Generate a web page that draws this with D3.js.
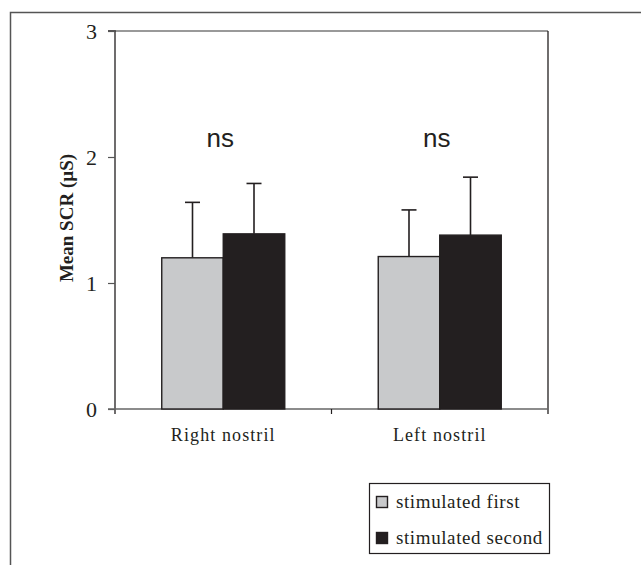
<!DOCTYPE html>
<html><head><meta charset="utf-8">
<script src="https://cdn.jsdelivr.net/npm/d3@7"></script>
<style>body{margin:0;background:#fff}</style>
</head><body>
<svg id="c" width="641" height="565"></svg>
<script>
const categories = ["Right nostril", "Left nostril"];
const seriesNames = ["stimulated first", "stimulated second"];
const means = [[1.20, 1.39], [1.21, 1.38]];
const errorTops = [[1.64, 1.79], [1.58, 1.84]];
const yTicks = [0, 1, 2, 3];
const annotations = ["ns", "ns"];
const yLabel = "Mean SCR (\u00b5S)";

(function () {
const colors = ["#c8c9cb", "#231f20"];
const ink = "#231f20";
const svg = d3.select("#c");

// outer frame
svg.append("path").attr("d", "M10.5,565V12.5H641").attr("fill", "none").attr("stroke", "#555").attr("stroke-width", 1.5);

const pl = 115, pr = 548, pt = 31, pb = 409;
const x = d3.scaleBand().domain(categories).range([pl, pr]);
const x1 = d3.scaleBand().domain(seriesNames).range([0, x.bandwidth()]).paddingOuter(0.76).paddingInner(0);
const y = d3.scaleLinear().domain([0, 3]).range([pb, pt]);

// plot frame top and right
svg.append("line").attr("x1", pl).attr("x2", pr).attr("y1", pt).attr("y2", pt).attr("stroke", "#777").attr("stroke-width", 1.3);
svg.append("line").attr("x1", pr).attr("x2", pr).attr("y1", pt).attr("y2", pb + 5).attr("stroke", ink).attr("stroke-width", 1.3);

// y axis
const ya = svg.append("g").attr("transform", `translate(${pl},0)`)
  .call(d3.axisLeft(y).tickValues(yTicks).tickFormat(d3.format("d")).tickSize(7).tickPadding(11));
ya.select(".domain").attr("stroke", ink).attr("stroke-width", 1.3).attr("d", `M-7,${pt}H0V${pb + 5}`);
ya.selectAll(".tick line").attr("stroke", "#555").attr("stroke-width", 1.2);
ya.selectAll(".tick text").attr("font-family", "Liberation Serif, Times New Roman, serif").attr("font-size", 22).attr("fill", ink);

// x axis
const xa = svg.append("g").attr("transform", `translate(0,${pb})`)
  .call(d3.axisBottom(x).tickSize(0).tickPadding(19));
xa.select(".domain").attr("stroke", "#666").attr("stroke-width", 1.5).attr("d", `M${pl - 7},0H${pr}`);
xa.selectAll(".tick text").attr("font-family", "Liberation Serif, Times New Roman, serif").attr("font-size", 18).attr("letter-spacing", "1.1px").attr("fill", ink);
svg.append("line").attr("x1", x(categories[1])).attr("x2", x(categories[1])).attr("y1", pb).attr("y2", pb + 5).attr("stroke", ink).attr("stroke-width", 1.2);

// bars
const groups = svg.append("g").selectAll("g").data(categories).join("g")
  .attr("transform", d => `translate(${x(d)},0)`);
groups.each(function(cat, ci) {
  const g = d3.select(this);
  seriesNames.forEach((s, si) => {
    const bx = x1(s), bw = x1.bandwidth(), cx = bx + bw / 2;
    g.append("line").attr("x1", cx).attr("x2", cx).attr("y1", y(means[ci][si])).attr("y2", y(errorTops[ci][si])).attr("stroke", ink).attr("stroke-width", 1.6);
    g.append("line").attr("x1", cx - 7.5).attr("x2", cx + 7.5).attr("y1", y(errorTops[ci][si])).attr("y2", y(errorTops[ci][si])).attr("stroke", ink).attr("stroke-width", 1.6);
    g.append("rect").attr("x", bx).attr("width", bw).attr("y", y(means[ci][si])).attr("height", y(0) - y(means[ci][si]))
      .attr("fill", colors[si]).attr("stroke", ink).attr("stroke-width", 1.4);
  });
  g.append("text").attr("x", x.bandwidth() / 2 - 3).attr("y", 147).attr("text-anchor", "middle")
    .attr("font-family", "Liberation Sans, Arial, sans-serif").attr("font-size", 26).attr("fill", ink).text(annotations[ci]);
});

// y label
svg.append("text").attr("transform", `translate(73,${(pt + pb) / 2 - 2}) rotate(-90)`).attr("text-anchor", "middle")
  .attr("font-family", "Liberation Serif, Times New Roman, serif").attr("font-weight", "bold").attr("font-size", 19).attr("fill", ink).text(yLabel);

// legend
const lg = svg.append("g");
lg.append("rect").attr("x", 369.5).attr("y", 483.5).attr("width", 180).attr("height", 70).attr("fill", "#fff").attr("stroke", ink).attr("stroke-width", 1.2);
seriesNames.forEach((s, i) => {
  lg.append("rect").attr("x", 376.5).attr("y", 496.5 + i * 36).attr("width", 11).attr("height", 11).attr("fill", colors[i]).attr("stroke", ink).attr("stroke-width", 1.4);
  lg.append("text").attr("x", 396).attr("y", 508 + i * 36).attr("font-family", "Liberation Serif, Times New Roman, serif").attr("font-size", 19).attr("letter-spacing", "0.6px").attr("fill", ink).text(s);
});
})();
</script>
</body></html>
